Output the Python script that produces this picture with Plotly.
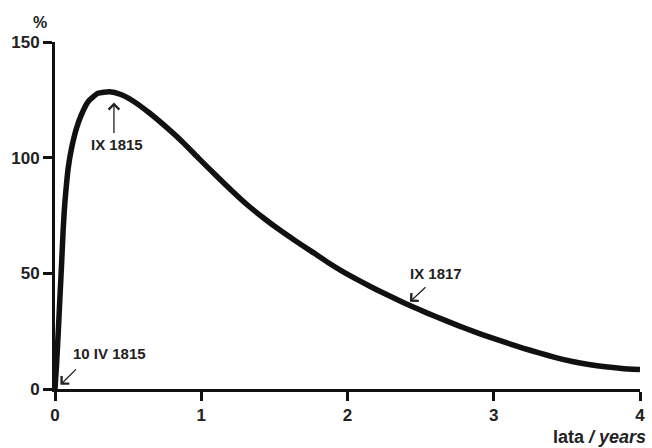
import plotly.graph_objects as go

# curve (years, %)
years = [0, 0.011, 0.023, 0.034, 0.045, 0.056, 0.064, 0.072, 0.09, 0.113, 0.147, 0.18,
         0.226, 0.294, 0.373, 0.45, 0.531, 0.644, 0.757, 0.87, 0.983, 1.096, 1.209,
         1.322, 1.435, 1.535, 1.638, 1.751, 1.864, 1.977, 2.09, 2.203, 2.317, 2.43,
         2.542, 2.655, 2.757, 2.87, 2.972, 3.085, 3.198, 3.31, 3.424, 3.537, 3.65,
         3.763, 3.876, 4.0]
percent = [0, 11, 25.5, 40, 54, 69, 77.5, 84, 95.4, 104, 112.7, 118.5,
           124.2, 127.8, 128.5, 127.3, 124.6, 119.4, 113.4, 106.9, 99.7, 92.6, 85.7,
           79.2, 73.5, 68.8, 64.3, 59.6, 54.8, 50.4, 46.5, 42.8, 39.3, 36.0,
           32.9, 30.0, 27.4, 24.7, 22.4, 20.0, 17.7, 15.6, 13.6, 11.9, 10.6,
           9.6, 8.9, 8.4]

x_ticks = [0, 1, 2, 3, 4]
y_ticks = [0, 50, 100, 150]

# annotation labels and the points they mark (arrow heads, data coords)
ann_text = ["IX 1815", "10 IV 1815", "IX 1817"]
ann_x = [0.403, 0.037, 2.427]
ann_y = [123.8, 1.8, 37.7]
ann_ax = [0, 17, 17]       # arrow tail offset in px
ann_ay = [32, -17, -16]
lab_dx = [3, 49, 26]       # label centre offset from head in px (right)
lab_dy = [-42, 31, 28]     # label centre offset from head in px (up)

font_family = "Liberation Sans, Arial, sans-serif"

fig = go.Figure()
fig.add_trace(go.Scatter(
    x=years, y=percent, mode="lines",
    line=dict(color="#111111", width=5.5, shape="spline", smoothing=0.5),
    cliponaxis=False, hoverinfo="skip", showlegend=False))

for t, x, y, ax, ay, dx, dy in zip(ann_text, ann_x, ann_y, ann_ax, ann_ay, lab_dx, lab_dy):
    fig.add_annotation(x=x, y=y, xref="x", yref="y", text="", showarrow=True,
                       ax=ax, ay=ay, arrowhead=4, arrowsize=1.6, arrowwidth=1.3,
                       arrowcolor="#222222")
    fig.add_annotation(x=x, y=y, xref="x", yref="y", text="<b>" + t + "</b>",
                       showarrow=False, xshift=dx, yshift=dy,
                       font=dict(family=font_family, size=15, color="#222222"))

fig.add_annotation(x=0, y=1, xref="paper", yref="paper", text="<b>%</b>",
                   showarrow=False, xanchor="center", yanchor="middle",
                   xshift=-15, yshift=20,
                   font=dict(family=font_family, size=16, color="#222222"))
fig.add_annotation(x=1, y=0, xref="paper", yref="paper",
                   text="<b>lata <i>/ years</i></b>",
                   showarrow=False, xanchor="right", yanchor="middle",
                   xshift=8, yshift=-48,
                   font=dict(family=font_family, size=18, color="#222222"))

axis_common = dict(showgrid=False, zeroline=False, showline=True, linewidth=3,
                   linecolor="#111111", ticks="outside", ticklen=9, tickwidth=3,
                   tickcolor="#111111",
                   tickfont=dict(family=font_family, size=17, color="#222222",
                                 weight="bold"))

fig.update_xaxes(range=[0, 4], tickvals=x_ticks, ticktext=[str(v) for v in x_ticks],
                 **axis_common)
fig.update_yaxes(range=[0, 150], tickvals=y_ticks, ticktext=[str(v) for v in y_ticks],
                 **axis_common)

fig.update_layout(width=652, height=448, margin=dict(l=55, r=7, t=42, b=59),
                  plot_bgcolor="white", paper_bgcolor="white")

fig.write_html("out.html")
